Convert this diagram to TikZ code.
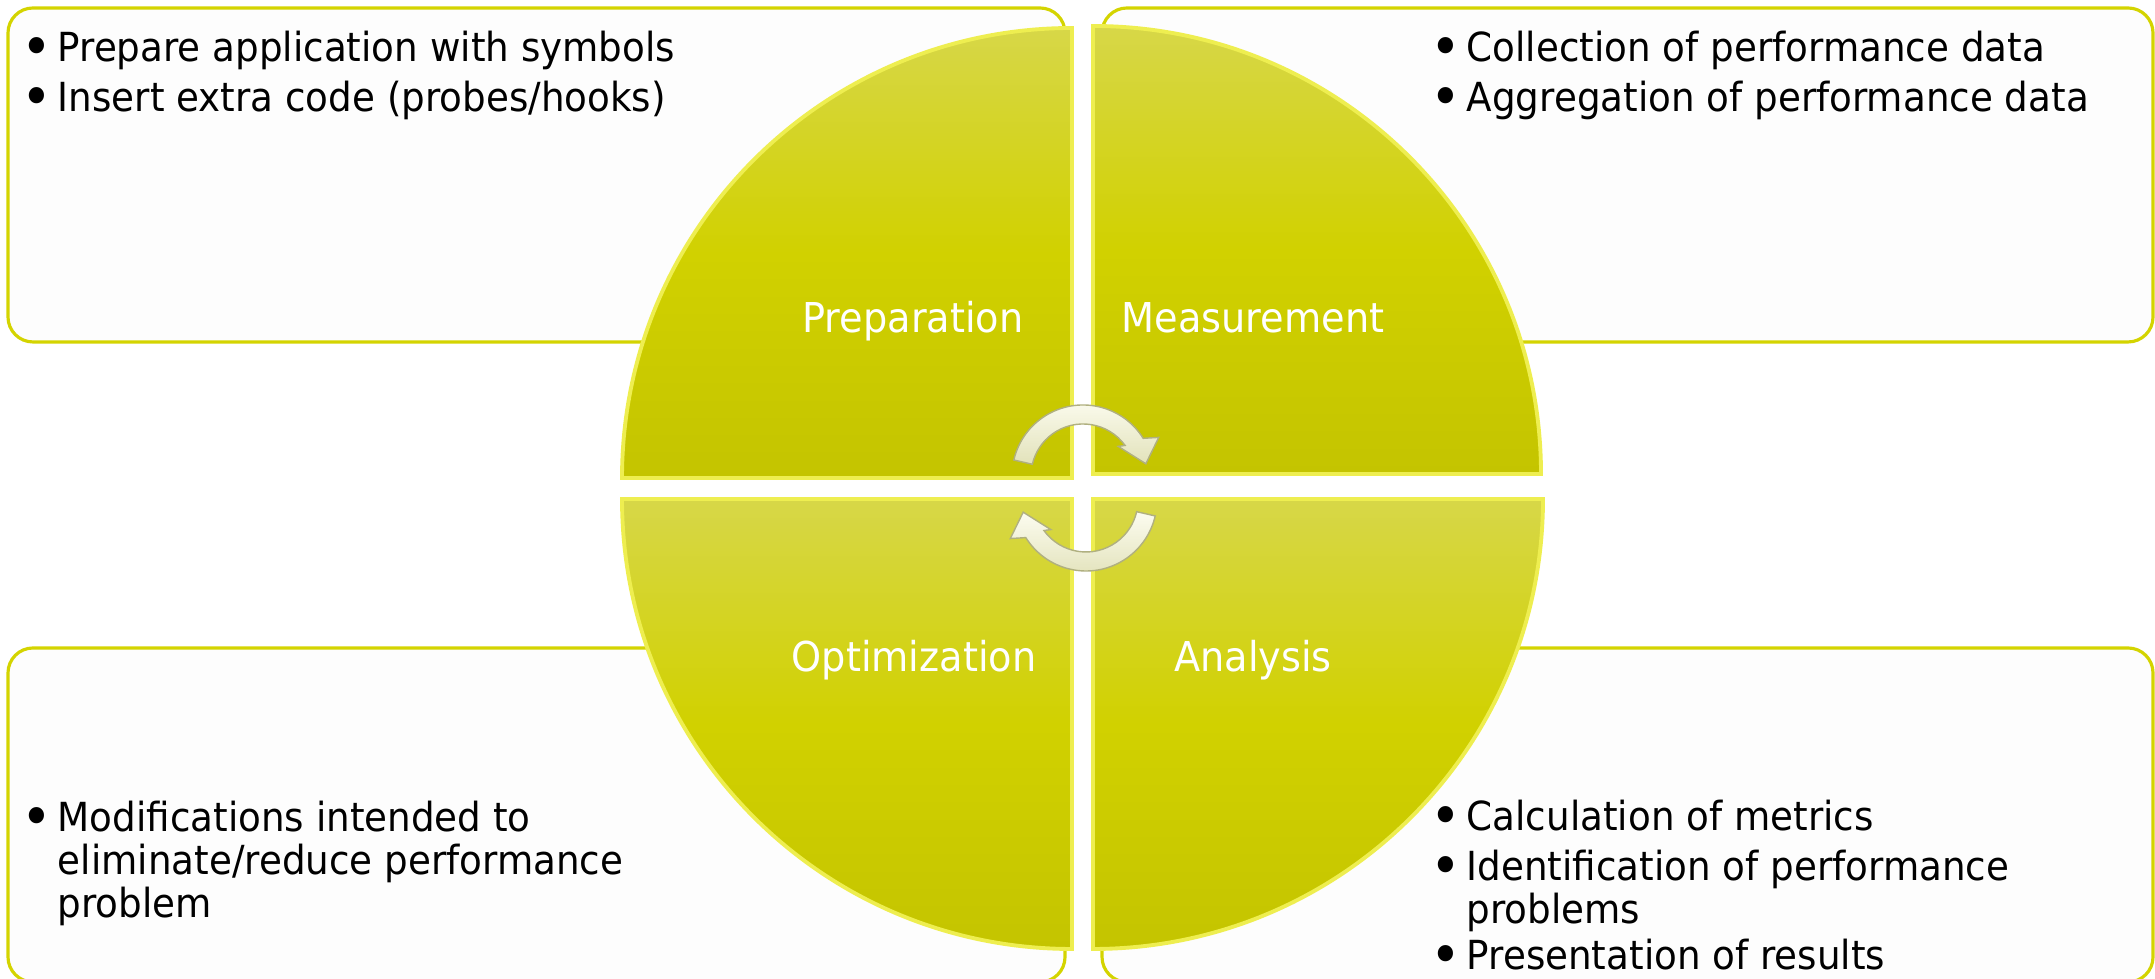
\documentclass[tikz,border=0pt]{standalone}
\usepackage{fontspec}
\setmainfont{DejaVu Sans}[FakeStretch=0.93]

\definecolor{boxline}{RGB}{212,212,0}
\definecolor{boxfill}{RGB}{253,253,253}
\definecolor{quadtop}{RGB}{215,215,72}
\definecolor{quadmid}{RGB}{209,209,0}
\definecolor{quadbot}{RGB}{196,196,0}
\definecolor{quadrim}{RGB}{238,238,80}
\definecolor{arrowlight}{RGB}{252,252,240}
\definecolor{arrowdark}{RGB}{226,226,186}
\definecolor{arrowline}{RGB}{176,176,128}

\newcommand{\bigdot}{\raisebox{-1.3pt}{\scalebox{1.4}{\textbullet}}}

\begin{document}
\begin{tikzpicture}[x=0.1mm, y=0.1mm,
  infobox/.style={draw=boxline, fill=boxfill, line width=0.9pt, rounded corners=2.5mm},
  quarter/.style={top color=quadtop, bottom color=quadbot, middle color=quadmid, draw=quadrim, line width=1.1pt},
  phase/.style={text=white, font=\fontsize{11.7}{14}\selectfont, inner sep=0pt, anchor=base},
  points/.style={font=\fontsize{11.4}{11.7}\selectfont, inner sep=0pt, anchor=base west},
  turnarrow/.style={top color=arrowlight, bottom color=arrowdark, draw=arrowline, line width=0.4pt}]

	% page
	\fill[white] (0,0) rectangle (2155,979);
	\useasboundingbox (0,0) rectangle (2155,979);

	% text boxes behind the circle
	\draw[infobox] (8,637) rectangle (1065,971);
	\draw[infobox] (1102,637) rectangle (2153,971);
	\draw[infobox] (8,-3) rectangle (1065,331);
	\draw[infobox] (1102,-3) rectangle (2153,331);

	% the four quarters
	\draw[quarter] (1072,501) -- (622,501) arc (180:90:450) -- cycle;
	\draw[quarter] (1093,505) -- (1093,953) arc (90:0:448) -- cycle;
	\draw[quarter] (1072,480) -- (622,480) arc (180:270:450) -- cycle;
	\draw[quarter] (1093,480) -- (1543,480) arc (0:-90:450) -- cycle;

	\node[phase] (prep) at (913,646) {Preparation};
	\node[phase] (meas) at (1253,646) {Measurement};
	\node[phase] (opt) at (914,307) {Optimization};
	\node[phase] (anal) at (1253,307) {Analysis};

	% cycle arrows
	\begin{scope}[shift={(1083,503)}]
		\path[turnarrow] (167:71) arc (167:32:71) -- (27:85) -- (11:64) -- (40:46) -- (36:52) arc (36:167:52) -- cycle;
	\end{scope}
	\begin{scope}[shift={(1086,479)}, rotate=180]
		\path[turnarrow] (167:71) arc (167:32:71) -- (27:85) -- (11:64) -- (40:46) -- (36:52) arc (36:167:52) -- cycle;
	\end{scope}

	% bullet texts
	\node[points] (prepnotes) at (21,917) {\begin{tabular}[t]{@{}l@{\hspace{1.5pt}}l@{}}
		\bigdot & Prepare application with symbols\\[2pt]
		\bigdot & Insert extra code (probes/hooks)
	\end{tabular}};
	\node[points] (measnotes) at (1430,917) {\begin{tabular}[t]{@{}l@{\hspace{1.5pt}}l@{}}
		\bigdot & Collection of performance data\\[2pt]
		\bigdot & Aggregation of performance data
	\end{tabular}};
	\node[points] (optnotes) at (21,147) {\begin{tabular}[t]{@{}l@{\hspace{1.5pt}}l@{}}
		\bigdot & Modifications intended to\\
		& eliminate/reduce performance\\
		& problem
	\end{tabular}};
	\node[points] (analnotes) at (1430,148) {\begin{tabular}[t]{@{}l@{\hspace{1.5pt}}l@{}}
		\bigdot & Calculation of metrics\\[2pt]
		\bigdot & Identification of performance\\
		& problems\\[1pt]
		\bigdot & Presentation of results
	\end{tabular}};
\end{tikzpicture}
\end{document}
